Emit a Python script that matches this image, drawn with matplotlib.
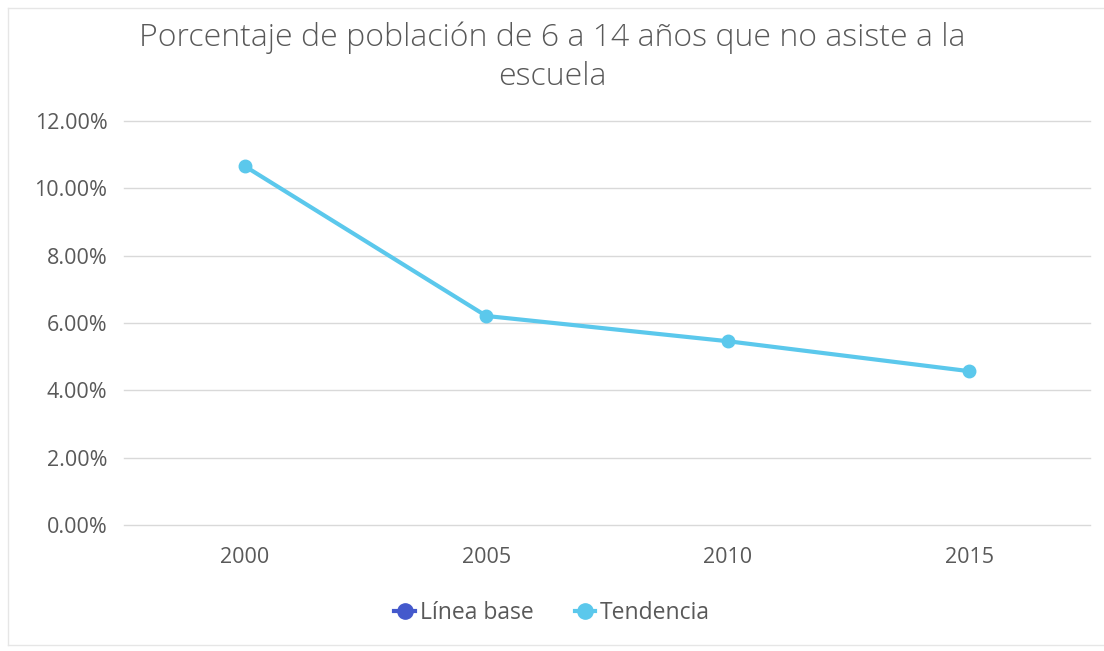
import matplotlib
matplotlib.use("Agg")
import matplotlib.pyplot as plt
from matplotlib.lines import Line2D
from matplotlib.ticker import FuncFormatter

plt.rcParams["font.family"] = ["Open Sans", "DejaVu Sans"]

years = ["2000", "2005", "2010", "2015"]
tendencia = [10.66, 6.21, 5.46, 4.57]
linea_base = [None, None, None, None]
y_ticks = [0, 2, 4, 6, 8, 10, 12]

TEND = "#5bc8ec"; BASE = "#4459cc"; TXT = "#595959"; GRID = "#d9d9d9"

fig = plt.figure(figsize=(11.04, 6.51), dpi=100); fig.patch.set_facecolor("white")
ax = fig.add_axes([0.1123, 0.1935, 0.8750, 0.6206])
x = list(range(len(years)))
ax.plot(x, tendencia, "o-", color=TEND, lw=3, ms=9, zorder=3)
ax.set_xlim(-0.5, 3.5); ax.set_ylim(0, 12)
ax.set_yticks(y_ticks)
ax.yaxis.set_major_formatter(FuncFormatter(lambda v, _: f"{v:.2f}%"))
ax.set_xticks(x); ax.set_xticklabels(years)
ax.tick_params(length=0, labelsize=15.5, colors=TXT, pad=12)
ax.tick_params(axis="x", pad=16)
ax.grid(axis="y", color=GRID, lw=1); ax.set_axisbelow(True)
for gl in ax.get_ygridlines():
    gl.set_clip_on(False)
for s in ax.spines.values():
    s.set_visible(False)

fig.text(0.5, 0.912, "Porcentaje de población de 6 a 14 años que no asiste a la\nescuela",
         ha="center", va="center", fontsize=23, color=TXT, linespacing=1.3, fontweight="light")

handles = [Line2D([0], [0], color=BASE, marker="o", lw=3, ms=11, label="Línea base"),
           Line2D([0], [0], color=TEND, marker="o", lw=3, ms=11, label="Tendencia")]
fig.legend(handles=handles, loc="center", bbox_to_anchor=(0.5, 0.058), ncol=2, frameon=False,
           fontsize=16.5, labelcolor=TXT, handlelength=0.9, handletextpad=0.2, columnspacing=1.8)

# light chart-area border
fig.add_artist(plt.Line2D([0.0072, 0.0072], [0.009, 0.988], color="#e6e6e6", lw=1))
fig.add_artist(plt.Line2D([0.0072, 1.0], [0.009, 0.009], color="#e6e6e6", lw=1))
fig.add_artist(plt.Line2D([0.0072, 1.0], [0.988, 0.988], color="#e6e6e6", lw=1))

fig.savefig("out.png", dpi=100)
